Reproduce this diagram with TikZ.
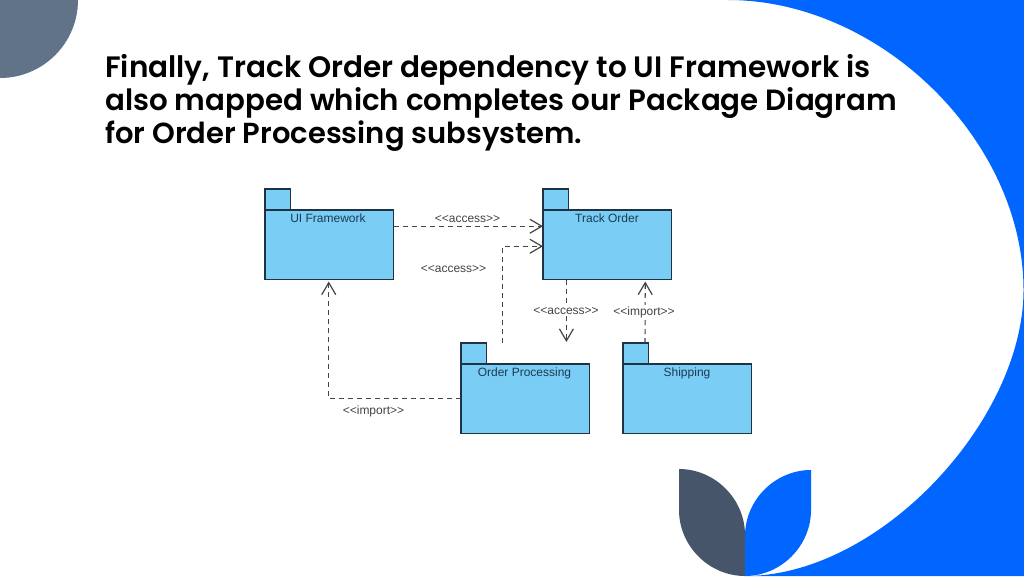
\documentclass[tikz,border=0pt]{standalone}
\usepackage{fontspec}
\setmainfont{Liberation Sans}
\newfontfamily\titlefont{Poppins SemiBold}
\usetikzlibrary{arrows.meta}
\definecolor{brand}{HTML}{0066FF}
\definecolor{slate}{HTML}{465569}
\definecolor{slatelt}{HTML}{607389}
\definecolor{pkgfill}{HTML}{7ACDF5}
\definecolor{pkgline}{HTML}{1F3345}
\definecolor{pkgtext}{HTML}{1E3A52}
\definecolor{stereo}{HTML}{444444}
\tikzset{
  pkgbody/.style={draw=pkgline,fill=pkgfill,line width=1.1pt,minimum width=128.5pt,minimum height=69.5pt,inner sep=0pt,outer sep=0pt,anchor=north west},
  pkgtab/.style={draw=pkgline,fill=pkgfill,line width=1.1pt,minimum width=25.5pt,minimum height=21pt,inner sep=0pt,outer sep=0pt,anchor=north west},
  pkglabel/.style={font=\fontsize{12}{14}\selectfont,text=pkgtext,inner sep=0pt,anchor=base},
  stereolabel/.style={font=\fontsize{12}{14}\selectfont,text=stereo,inner sep=0pt,anchor=base},
  dep/.style={draw=stereo,line width=1.1pt,dash pattern=on 5pt off 4pt,-{Straight Barb[length=12pt,width=14pt,line width=1.2pt,sep=0pt]}},
  titleline/.style={text=black,inner sep=0pt,anchor=base west}
}
\begin{document}
\begin{tikzpicture}[x=1pt,y=-1pt]
\useasboundingbox (0,0) rectangle (1024,576);
\fill[white] (0,0) rectangle (1024,576);
% corner shapes
\fill[brand] (728,0) .. controls (880,0) and (1023.5,140) .. (1023.5,290)
  .. controls (1023.5,420) and (880,576) .. (745,576)
  -- (1024,576) -- (1024,0) -- cycle;
\fill[slatelt] (0,0) -- (78,0) arc[start angle=0,end angle=90,radius=78] -- cycle;
\fill[slate] (679,469) .. controls (715,469) and (745,499) .. (745,535) -- (745,576)
  .. controls (709,576) and (679,546) .. (679,510) -- cycle;
\fill[brand] (811,470) .. controls (775,470) and (745,500) .. (745,536) -- (745,576)
  .. controls (781,576) and (811,546) .. (811,510) -- cycle;
% title
\node[titleline,font=\titlefont\fontsize{29.5}{33}\selectfont] (t1) at (105,77) {Finally, Track Order dependency to UI Framework is};
\node[titleline,font=\titlefont\fontsize{29.3}{33}\selectfont] (t2) at (105,110) {also mapped which completes our Package Diagram};
\node[titleline,font=\titlefont\fontsize{29}{33}\selectfont] (t3) at (105,143) {for Order Processing subsystem.};
% packages
\node[pkgtab] (uitab) at (265,189) {};
\node[pkgbody] (ui) at (265,210) {};
\node[pkgtab] (tracktab) at (543,189) {};
\node[pkgbody] (track) at (543,210) {};
\node[pkgtab] (optab) at (461,343) {};
\node[pkgbody] (op) at (461,364) {};
\node[pkgtab] (shiptab) at (623,343) {};
\node[pkgbody] (ship) at (623,364) {};
\node[pkglabel] (uil) at (328,222) {UI Framework};
\node[pkglabel] (trackl) at (607,222) {Track Order};
\node[pkglabel] (opl) at (524.5,376) {Order Processing};
\node[pkglabel] (shipl) at (687,376) {Shipping};
% free ends
\coordinate (a) at (502.4,343);
\coordinate (b) at (566.4,342);
% connectors
\draw[dep] ([yshift=18.5pt]ui.east) -- ([yshift=18.5pt]track.west);
\draw[dep] (a) |- ([yshift=-1.5pt]track.west);
\draw[dep] (op.west) -| ([xshift=-0.5pt,yshift=-2pt]ui.south);
\draw[dep] (track.south -| b) -- (b);
\draw[dep] (shiptab.north -| 645,0) -- ([xshift=38pt,yshift=-2pt]track.south);
% labels
\node[stereolabel,fill=white,inner ysep=1pt] (l4) at (566,314.5) {<{}<access>{}>};
\node[stereolabel,fill=white,inner ysep=1pt] (l5) at (644,315) {<{}<import>{}>};
\node[stereolabel] (l1) at (467.5,222) {<{}<access>{}>};
\node[stereolabel] (l2) at (453.5,272.5) {<{}<access>{}>};
\node[stereolabel] (l3) at (373.5,414) {<{}<import>{}>};
\end{tikzpicture}
\end{document}
